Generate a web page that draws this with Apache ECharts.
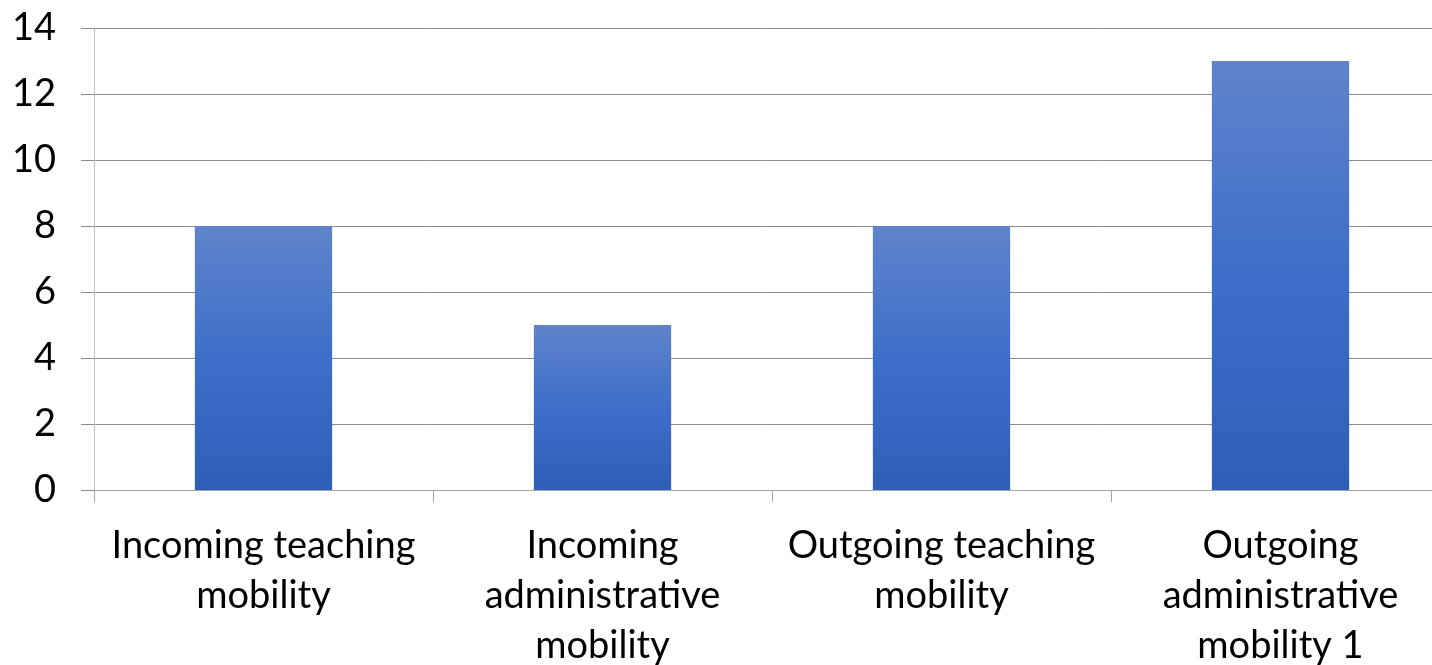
<!DOCTYPE html>
<html><head><meta charset="utf-8">
<script src="https://cdn.jsdelivr.net/npm/echarts@6/dist/echarts.min.js"></script>
<style>html,body{margin:0;padding:0;background:#fff}#c{width:1432px;height:665px}</style>
</head><body><div id="c"></div>
<script>
const categories = ["Incoming teaching\nmobility", "Incoming\nadministrative\nmobility", "Outgoing teaching\nmobility", "Outgoing\nadministrative\nmobility 1"];
const values = [8, 5, 8, 13];
const yTicks = {min: 0, max: 14, interval: 2};

const chart = echarts.init(document.getElementById('c'), null, {renderer: 'canvas'});
chart.setOption({
  animation: false,
  grid: {left: 94, right: -18, top: 28, bottom: 175, containLabel: false, outerBoundsMode: 'none'},
  xAxis: {
    type: 'category', data: categories,
    axisLine: {show: true, lineStyle: {color: '#a6a6a6', width: 1}},
    axisTick: {show: true, length: 12, lineStyle: {color: '#a6a6a6'}},
    axisLabel: {color: '#000', fontFamily: 'Lato', fontSize: 38, lineHeight: 50, margin: 31, interval: 0}
  },
  yAxis: {
    type: 'value', min: yTicks.min, max: yTicks.max, interval: yTicks.interval,
    axisLine: {show: true, lineStyle: {color: '#bfbfbf'}},
    axisTick: {show: true, length: 13, lineStyle: {color: '#8c8c8c'}},
    splitLine: {show: true, lineStyle: {color: '#8c8c8c', width: 1}},
    axisLabel: {color: '#000', fontFamily: 'Lato', fontSize: 38, margin: 38}
  },
  series: [{
    type: 'bar', data: values, barWidth: '40.5%',
    itemStyle: {color: new echarts.graphic.LinearGradient(0, 0, 0, 1, [
      {offset: 0, color: '#6083ca'}, {offset: 0.5, color: '#3d6ec9'}, {offset: 1, color: '#2e5eb8'}
    ], false)}
  }]
});
</script></body></html>
